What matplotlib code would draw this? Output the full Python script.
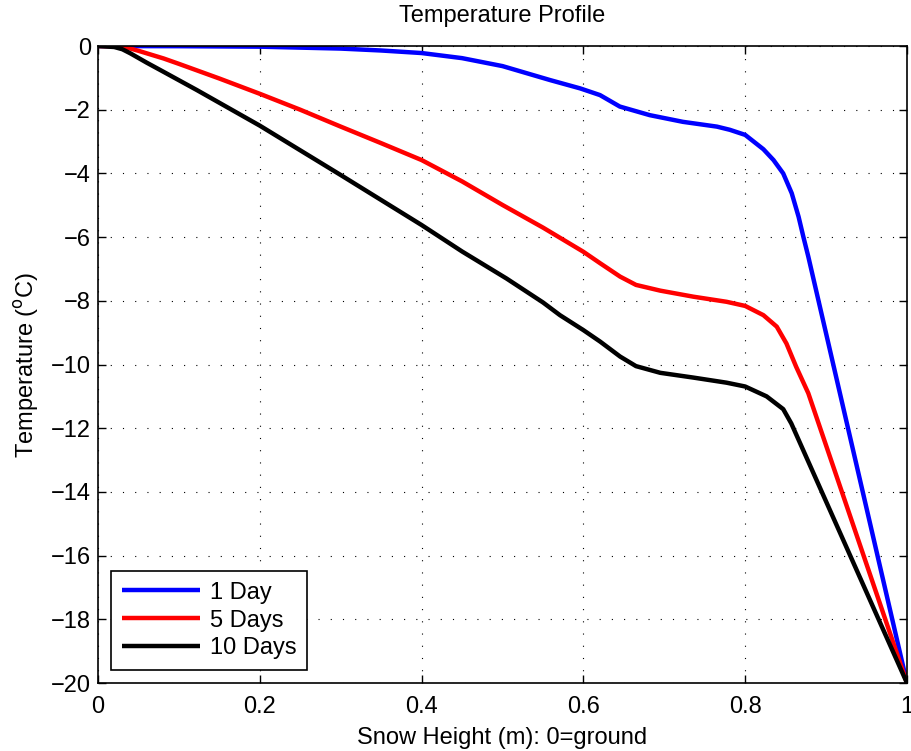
import matplotlib
matplotlib.use('Agg')
import matplotlib.pyplot as plt

plt.rcParams['font.family'] = ['Liberation Sans', 'DejaVu Sans']

# Snow height (m) and temperature (deg C)
h_1day = [0.0, 0.1, 0.2, 0.3, 0.35, 0.4, 0.45, 0.5, 0.559, 0.596, 0.6205,
          0.645, 0.682, 0.723, 0.765, 0.781, 0.8, 0.8225, 0.835, 0.847,
          0.8575, 0.866, 0.872, 0.878, 1.0]
t_1day = [0.0, -0.005, -0.02, -0.08, -0.14, -0.22, -0.38, -0.63, -1.07, -1.33,
          -1.54, -1.9, -2.17, -2.38, -2.53, -2.63, -2.79, -3.24, -3.58, -4.0,
          -4.62, -5.36, -6.0, -6.61, -20.0]

h_5days = [0.0, 0.02, 0.032, 0.05, 0.081, 0.1, 0.15, 0.2, 0.25, 0.3, 0.35,
           0.4, 0.45, 0.5, 0.55, 0.6, 0.6207, 0.6454, 0.665, 0.695, 0.736,
           0.777, 0.8, 0.8225, 0.839, 0.851, 0.863, 0.878, 1.0]
t_5days = [0.0, -0.005, -0.02, -0.15, -0.39, -0.56, -1.02, -1.5, -2.0, -2.53,
           -3.05, -3.58, -4.25, -4.99, -5.7, -6.46, -6.82, -7.24, -7.5, -7.68,
           -7.87, -8.03, -8.16, -8.45, -8.81, -9.34, -10.07, -10.9, -20.0]

h_10days = [0.0, 0.02, 0.03, 0.04, 0.06, 0.081, 0.122, 0.2, 0.3, 0.4, 0.45,
            0.505, 0.55, 0.571, 0.6, 0.6207, 0.6454, 0.665, 0.695, 0.736,
            0.777, 0.8, 0.8265, 0.847, 0.857, 1.0]
t_10days = [0.0, -0.03, -0.1, -0.23, -0.52, -0.81, -1.38, -2.5, -4.05, -5.62,
            -6.45, -7.3, -8.05, -8.45, -8.92, -9.28, -9.75, -10.05, -10.26,
            -10.41, -10.57, -10.69, -11.0, -11.4, -11.85, -20.0]

series = [(h_1day, t_1day, 'b', '1 Day'),
          (h_5days, t_5days, 'r', '5 Days'),
          (h_10days, t_10days, 'k', '10 Days')]

fig = plt.figure(figsize=(9.12, 7.51), dpi=100)
ax = fig.add_axes([0.1075, 0.0905, 0.887, 0.8482])

for h, t, c, lab in series:
    ax.plot(h, t, color=c, linewidth=3.2, label=lab,
            solid_joinstyle='round', solid_capstyle='butt')

ax.set_xlim(0, 1)
ax.set_ylim(-20, 0)
ax.set_xticks([0, 0.2, 0.4, 0.6, 0.8, 1])
ax.set_xticklabels(['0', '0.2', '0.4', '0.6', '0.8', '1'])
ax.set_yticks(range(-20, 1, 2))
ax.set_yticklabels([('\u2212' + str(-v)) if v < 0 else '0'
                    for v in range(-20, 1, 2)])
ax.grid(True, linestyle=(0, (1, 10)), color='k', linewidth=0.8)
ax.tick_params(direction='in', top=True, right=True, labelsize=17,
               length=6, width=1)
ax.tick_params(axis='x', pad=9)
ax.tick_params(axis='y', pad=5)
for s in ax.spines.values():
    s.set_linewidth(1.2)

ax.set_title('Temperature Profile', fontsize=17, pad=17)
ax.set_xlabel('Snow Height (m): 0=ground', fontsize=17, labelpad=7)
ax.set_ylabel('Temperature ($^{\\mathrm{o}}$C)', fontsize=17, labelpad=7)

leg = ax.legend(loc='lower left', fontsize=17, fancybox=False,
                edgecolor='k', framealpha=1, handlelength=3.3,
                handletextpad=0.45, borderaxespad=0.55, labelspacing=0.25,
                borderpad=0.45)
leg.get_frame().set_linewidth(1.2)

fig.savefig('out.png', dpi=100)
